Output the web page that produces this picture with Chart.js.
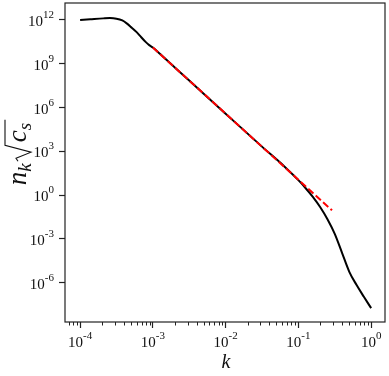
<!DOCTYPE html>
<html>
<head>
<meta charset="utf-8">
<script src="https://cdn.jsdelivr.net/npm/chart.js@4.4.1/dist/chart.umd.min.js"></script>
<style>
  body { margin: 0; background: #fff; }
  #wrap { width: 389px; height: 376px; }
</style>
</head>
<body>
<div id="wrap"><canvas id="spectrum" width="389" height="376"></canvas></div>
<script>
// k and n_k*sqrt(c_s)
const kValues = [1e-4, 1.38e-4, 2.09e-4, 2.57e-4, 3.16e-4, 3.8e-4, 4.37e-4, 5.13e-4, 6.03e-4, 6.92e-4,
  7.94e-4, 8.91e-4, 1e-3, 1.26e-3, 3.16e-3, 1e-2, 3.16e-2, 6.31e-2, 0.1, 0.126,
  0.158, 0.2, 0.251, 0.316, 0.398, 0.501, 0.631, 0.794, 1.0];
const nValues = [1e12, 1.12e12, 1.29e12, 1.35e12, 1.23e12, 9.3e11, 5.9e11, 2.95e11, 1.41e11, 6.6e10,
  3.16e10, 1.9e10, 1.29e10, 4.6e9, 7.1e7, 3.8e5, 2.09e3, 100, 10.5, 2.94,
  0.75, 0.146, 0.022, 2.19e-3, 1.1e-4, 5.5e-6, 6.8e-7, 1.07e-7, 1.78e-8];

// power-law fit (red dashed line)
const fitK = [1e-3, 0.29];
const fitN = [1.3e10, 0.09];

// decade exponents for the tick labels
const xTickExps = [-4, -3, -2, -1, 0];
const yTickExps = [-6, -3, 0, 3, 6, 9, 12];

const serif = '"Liberation Serif", "DejaVu Serif", serif';
const axisColor = '#222';

function toPoints(xs, ys) {
    return xs.map((x, i) => ({ x: x, y: ys[i] }));
}

// draws "10" with a raised exponent, either centred on x or right aligned to x
function powLabel(ctx, exp, x, y, align) {
    const base = '10';
    const sup = String(exp);
    ctx.font = '15px ' + serif;
    const w1 = ctx.measureText(base).width;
    ctx.font = '11px ' + serif;
    const w2 = ctx.measureText(sup).width;
    let left = align === 'right' ? x - w1 - w2 : x - (w1 + w2) / 2;
    ctx.textAlign = 'left';
    ctx.textBaseline = 'alphabetic';
    ctx.font = '15px ' + serif;
    ctx.fillText(base, left, y);
    ctx.font = '11px ' + serif;
    ctx.fillText(sup, left + w1, y - 8);
}

const axisDecor = {
    id: 'axisDecor',
    afterDraw(chart) {
        const ctx = chart.ctx;
        const area = chart.chartArea;
        const xs = chart.scales.x;
        const ys = chart.scales.y;
        ctx.save();

        // frame round the plot
        ctx.strokeStyle = axisColor;
        ctx.lineWidth = 1.2;
        ctx.strokeRect(area.left, area.top, area.right - area.left, area.bottom - area.top);

        // minor ticks on the k axis
        ctx.lineWidth = 1;
        ctx.beginPath();
        for (let e = -5; e <= 0; e++) {
            for (let m = 2; m <= 9; m++) {
                const v = m * Math.pow(10, e);
                if (v < xs.min || v > xs.max) continue;
                const px = Math.round(xs.getPixelForValue(v)) + 0.5;
                ctx.moveTo(px, area.bottom);
                ctx.lineTo(px, area.bottom + 3.5);
            }
        }
        ctx.stroke();

        // tick labels
        ctx.fillStyle = '#111';
        xTickExps.forEach(e => {
            powLabel(ctx, e, xs.getPixelForValue(Math.pow(10, e)), area.bottom + 25, 'center');
        });
        yTickExps.forEach(e => {
            powLabel(ctx, e, area.left - 11, ys.getPixelForValue(Math.pow(10, e)) + 6, 'right');
        });

        // x title
        ctx.font = 'italic 20px ' + serif;
        ctx.textAlign = 'center';
        ctx.fillText('k', (area.left + area.right) / 2 + 1, 368);

        // y title: n_k sqrt(c_s), rotated
        ctx.translate(26, (area.top + area.bottom) / 2 - 10);
        ctx.rotate(-Math.PI / 2);
        ctx.textAlign = 'left';
        ctx.font = 'italic 27px ' + serif;
        const wn = ctx.measureText('n').width;
        const wc = ctx.measureText('c').width;
        ctx.font = 'italic 19px ' + serif;
        const wk = ctx.measureText('k').width;
        const ws = ctx.measureText('s').width;
        const wRad = 20;
        const total = wn + wk + 1 + wRad + wc + ws + 3;
        let cx = -total / 2;
        ctx.font = 'italic 27px ' + serif;
        ctx.fillText('n', cx, 0);
        cx += wn;
        ctx.font = 'italic 19px ' + serif;
        ctx.fillText('k', cx, 5);
        cx += wk + 1;
        // radical sign and overline
        ctx.lineWidth = 1.1;
        ctx.strokeStyle = '#111';
        ctx.beginPath();
        ctx.moveTo(cx + 1, -8);
        ctx.lineTo(cx + 4, -10);
        ctx.lineTo(cx + 10, 5);
        ctx.lineTo(cx + 17, -21);
        ctx.lineTo(cx + wRad + wc + ws + 3, -21);
        ctx.stroke();
        cx += wRad;
        ctx.font = 'italic 27px ' + serif;
        ctx.fillText('c', cx, 0);
        cx += wc;
        ctx.font = 'italic 19px ' + serif;
        ctx.fillText('s', cx, 5);

        ctx.restore();
    }
};

const ctx = document.getElementById('spectrum').getContext('2d');
new Chart(ctx, {
    type: 'scatter',
    data: {
        datasets: [
            {
                data: toPoints(kValues, nValues),
                showLine: true,
                borderColor: '#000',
                borderWidth: 2,
                pointRadius: 0,
                cubicInterpolationMode: 'monotone',
                order: 1,
            },
            {
                data: toPoints(fitK, fitN),
                showLine: true,
                borderColor: '#ff0000',
                borderWidth: 2,
                borderDash: [7, 3],
                pointRadius: 0,
                order: 0,
            },
        ],
    },
    options: {
        responsive: false,
        animation: false,
        layout: { padding: { left: 59, right: 4, top: 3, bottom: 48 } },
        plugins: {
            legend: { display: false },
            tooltip: { enabled: false },
        },
        scales: {
            x: {
                type: 'logarithmic',
                min: 6.2e-5,
                max: 1.55,
                afterBuildTicks: scale => {
                    scale.ticks = xTickExps.map(e => ({ value: Math.pow(10, e) }));
                },
                grid: { drawOnChartArea: false, tickLength: 6, tickColor: axisColor, tickWidth: 1.2 },
                border: { display: false },
                ticks: { display: false },
            },
            y: {
                type: 'logarithmic',
                min: 2.0e-9,
                max: 1.46e13,
                afterBuildTicks: scale => {
                    scale.ticks = yTickExps.map(e => ({ value: Math.pow(10, e) }));
                },
                grid: { drawOnChartArea: false, tickLength: 6, tickColor: axisColor, tickWidth: 1.2 },
                border: { display: false },
                ticks: { display: false },
            },
        },
    },
    plugins: [axisDecor],
});
</script>
</body>
</html>
